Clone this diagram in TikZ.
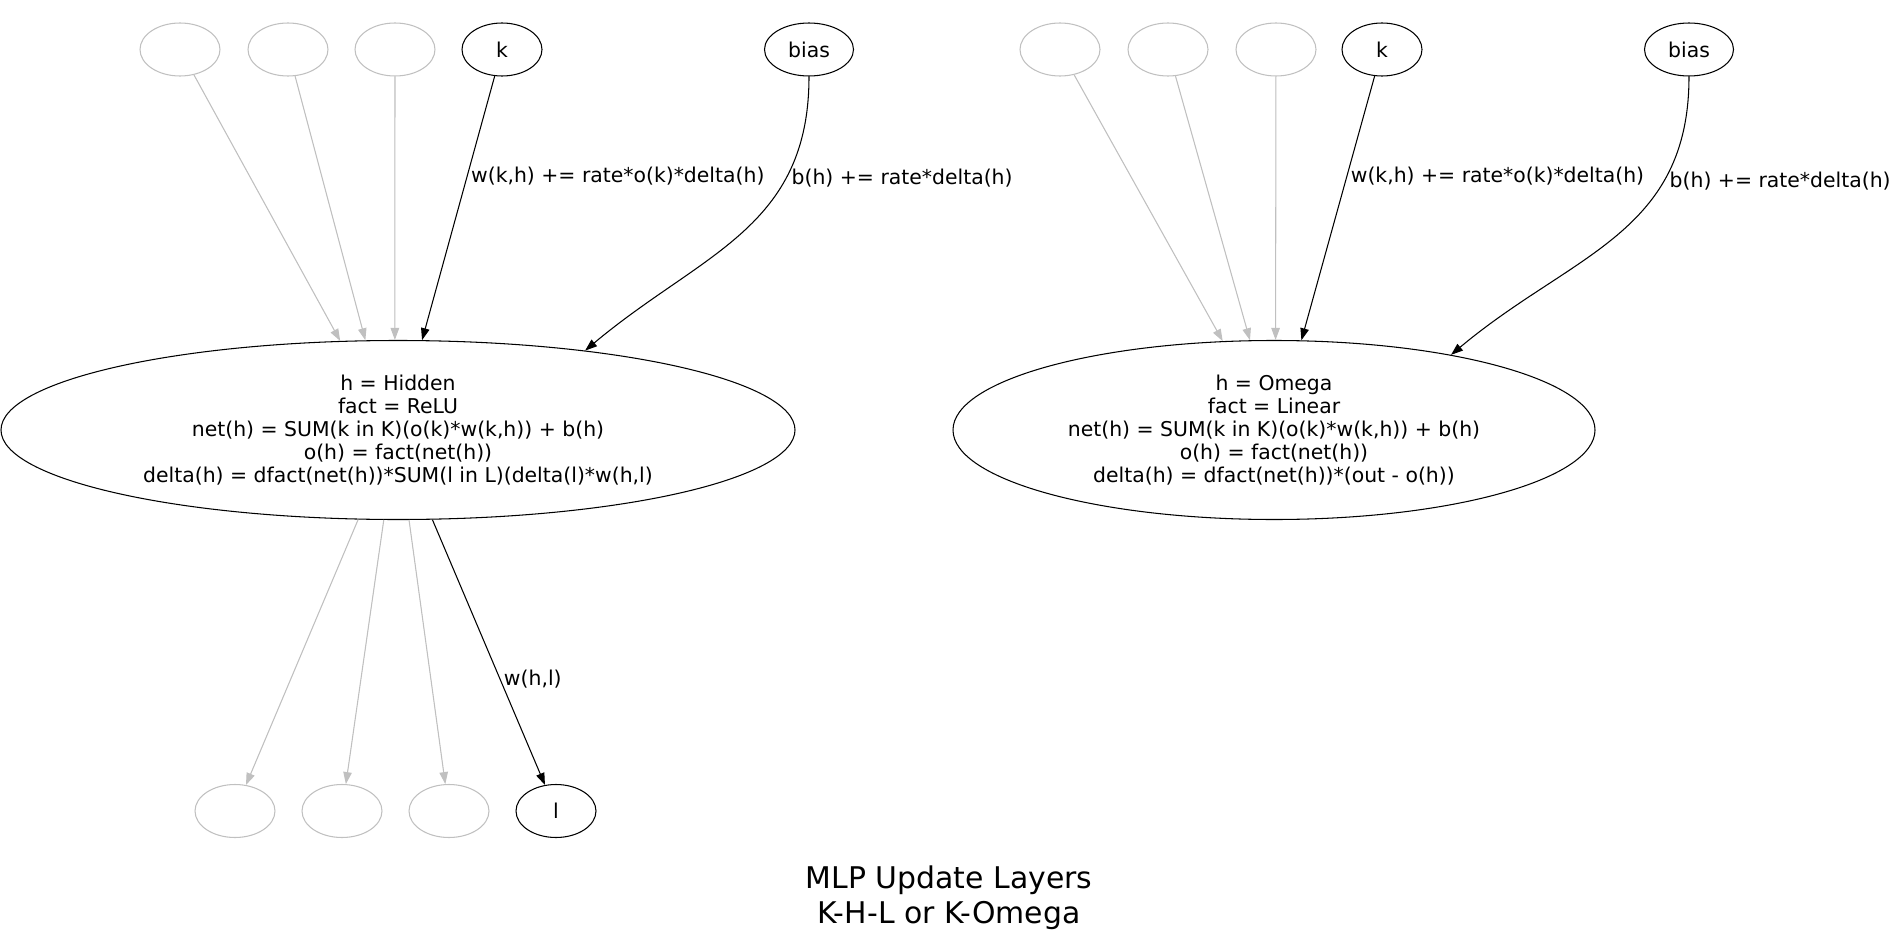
\documentclass[tikz,border=0pt]{standalone}
\usepackage{fontspec}
\setmainfont{DejaVu Sans}
\usepackage{xcolor}
\usetikzlibrary{arrows.meta, positioning, calc, shapes.geometric}
\definecolor{ghost}{RGB}{192,192,192}

\begin{document}
\begin{tikzpicture}[
    unit/.style={ellipse, draw, line width=0.6pt, minimum width=1.6cm, minimum height=1.06cm, inner sep=0pt, font=\fontsize{11.6}{13}\selectfont},
    ghostunit/.style={unit, draw=ghost},
    layer/.style={ellipse, draw, line width=0.6pt, minimum height=3.58cm, inner sep=0pt, align=center, font=\fontsize{11.6}{13}\selectfont},
    wire/.style={line width=0.6pt, -{Triangle[length=2.4mm, width=1.7mm]}},
    ghostwire/.style={wire, draw=ghost, fill=ghost},
    lbl/.style={font=\fontsize{11.6}{13}\selectfont, inner sep=2pt}
  ]
  \useasboundingbox (0,0) rectangle (37.92,-18.88);

  % Left: K-H-L
  \node[ghostunit] (k1a) at (3.60,-0.99) {};
  \node[ghostunit] (k1b) at (5.76,-0.99) {};
  \node[ghostunit] (k1c) at (7.90,-0.99) {};
  \node[unit] (k1) at (10.04,-0.99) {k};
  \node[unit, minimum width=1.78cm] (bias1) at (16.18,-0.99) {bias};

  \node[layer, minimum width=15.88cm] (hid) at (7.96,-8.60) {h = Hidden\\fact = ReLU\\net(h) = SUM(k in K)(o(k)*w(k,h)) + b(h)\\o(h) = fact(net(h))\\delta(h) = dfact(net(h))*SUM(l in L)(delta(l)*w(h,l)};

  \node[ghostunit] (l1a) at (4.70,-16.22) {};
  \node[ghostunit] (l1b) at (6.84,-16.22) {};
  \node[ghostunit] (l1c) at (8.98,-16.22) {};
  \node[unit] (l1) at (11.12,-16.22) {l};

  % Incoming weights and bias
  \draw[ghostwire] (k1a) -- (hid.123);
  \draw[ghostwire] (k1b) -- (hid.110);
  \draw[ghostwire] (k1c) -- (hid.92);
  \draw[wire] (k1) -- (hid.75) node[lbl, pos=0.38, right] {w(k,h) += rate*o(k)*delta(h)};
  \draw[wire] (bias1) to[out=-90, in=40, looseness=1.1] node[lbl, pos=0.28, right=1pt] {b(h) += rate*delta(h)} (hid.23);

  % Outgoing weights
  \draw[ghostwire] (hid.246) -- (l1a);
  \draw[ghostwire] (hid.261) -- (l1b);
  \draw[ghostwire] (hid.277) -- (l1c);
  \draw[wire] (hid.291) -- (l1) node[lbl, pos=0.6, right] {w(h,l)};

  % Right: K-Omega
  \node[ghostunit] (k2a) at (21.20,-0.99) {};
  \node[ghostunit] (k2b) at (23.36,-0.99) {};
  \node[ghostunit] (k2c) at (25.52,-0.99) {};
  \node[unit] (k2) at (27.64,-0.99) {k};
  \node[unit, minimum width=1.78cm] (bias2) at (33.78,-0.99) {bias};

  \node[layer, minimum width=12.84cm] (omega) at (25.48,-8.60) {h = Omega\\fact = Linear\\net(h) = SUM(k in K)(o(k)*w(k,h)) + b(h)\\o(h) = fact(net(h))\\delta(h) = dfact(net(h))*(out - o(h))};

  \draw[ghostwire] (k2a) -- (omega.120);
  \draw[ghostwire] (k2b) -- (omega.105);
  \draw[ghostwire] (k2c) -- (omega.89);
  \draw[wire] (k2) -- (omega.73) node[lbl, pos=0.38, right] {w(k,h) += rate*o(k)*delta(h)};
  \draw[wire] (bias2) to[out=-90, in=40, looseness=1.1] node[lbl, pos=0.28, right=1pt] {b(h) += rate*delta(h)} (omega.23);

  % Title
  \node[align=center, font=\fontsize{17}{20}\selectfont] (title) at (18.98,-17.96) {MLP Update Layers\\K-H-L or K-Omega};
\end{tikzpicture}
\end{document}
